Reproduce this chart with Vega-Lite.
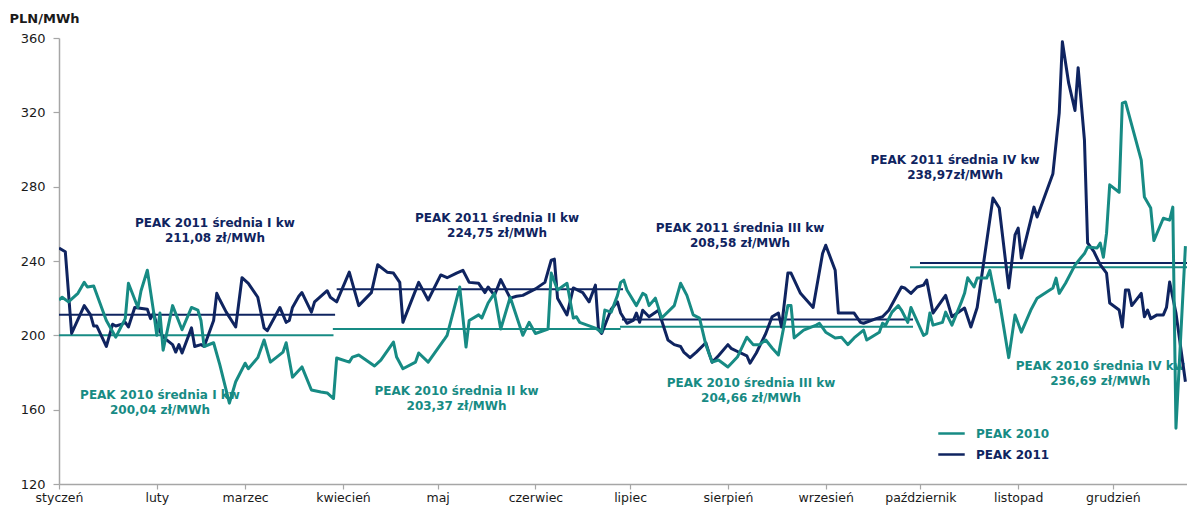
{
  "$schema": "https://vega.github.io/schema/vega-lite/v6.json",
  "width": 1128,
  "height": 446,
  "autosize": {"type": "none"},
  "padding": {"left": 59, "top": 38, "right": 0, "bottom": 22},
  "background": "white",
  "config": {"view": {"stroke": null}, "font": "DejaVu Sans", "axis": {"labelFont": "DejaVu Sans", "titleFont": "DejaVu Sans"}},
  "datasets": {
    "prices": [
      {"date": "2011-01-01", "series": "PEAK 2011", "value": 247},
      {"date": "2011-01-03", "series": "PEAK 2011", "value": 245},
      {"date": "2011-01-05", "series": "PEAK 2011", "value": 201},
      {"date": "2011-01-09", "series": "PEAK 2011", "value": 216},
      {"date": "2011-01-11", "series": "PEAK 2011", "value": 211},
      {"date": "2011-01-12", "series": "PEAK 2011", "value": 205},
      {"date": "2011-01-13", "series": "PEAK 2011", "value": 205},
      {"date": "2011-01-16", "series": "PEAK 2011", "value": 194},
      {"date": "2011-01-18", "series": "PEAK 2011", "value": 206},
      {"date": "2011-01-19", "series": "PEAK 2011", "value": 205},
      {"date": "2011-01-21", "series": "PEAK 2011", "value": 206},
      {"date": "2011-01-22", "series": "PEAK 2011", "value": 207},
      {"date": "2011-01-23", "series": "PEAK 2011", "value": 204.5},
      {"date": "2011-01-25", "series": "PEAK 2011", "value": 215},
      {"date": "2011-01-29", "series": "PEAK 2011", "value": 214},
      {"date": "2011-01-30", "series": "PEAK 2011", "value": 209},
      {"date": "2011-01-31", "series": "PEAK 2011", "value": 212},
      {"date": "2011-02-01", "series": "PEAK 2011", "value": 205.5},
      {"date": "2011-02-03", "series": "PEAK 2011", "value": 199},
      {"date": "2011-02-06", "series": "PEAK 2011", "value": 195},
      {"date": "2011-02-07", "series": "PEAK 2011", "value": 191},
      {"date": "2011-02-08", "series": "PEAK 2011", "value": 195},
      {"date": "2011-02-09", "series": "PEAK 2011", "value": 190.5},
      {"date": "2011-02-12", "series": "PEAK 2011", "value": 204},
      {"date": "2011-02-13", "series": "PEAK 2011", "value": 194},
      {"date": "2011-02-15", "series": "PEAK 2011", "value": 195},
      {"date": "2011-02-16", "series": "PEAK 2011", "value": 194},
      {"date": "2011-02-19", "series": "PEAK 2011", "value": 208},
      {"date": "2011-02-20", "series": "PEAK 2011", "value": 222.6},
      {"date": "2011-02-21", "series": "PEAK 2011", "value": 219},
      {"date": "2011-02-23", "series": "PEAK 2011", "value": 212.5},
      {"date": "2011-02-26", "series": "PEAK 2011", "value": 204.5},
      {"date": "2011-02-28", "series": "PEAK 2011", "value": 231},
      {"date": "2011-03-02", "series": "PEAK 2011", "value": 228},
      {"date": "2011-03-05", "series": "PEAK 2011", "value": 220.5},
      {"date": "2011-03-07", "series": "PEAK 2011", "value": 204},
      {"date": "2011-03-08", "series": "PEAK 2011", "value": 202.5},
      {"date": "2011-03-12", "series": "PEAK 2011", "value": 215},
      {"date": "2011-03-14", "series": "PEAK 2011", "value": 207},
      {"date": "2011-03-15", "series": "PEAK 2011", "value": 208},
      {"date": "2011-03-16", "series": "PEAK 2011", "value": 215},
      {"date": "2011-03-18", "series": "PEAK 2011", "value": 221},
      {"date": "2011-03-19", "series": "PEAK 2011", "value": 223},
      {"date": "2011-03-22", "series": "PEAK 2011", "value": 212.5},
      {"date": "2011-03-23", "series": "PEAK 2011", "value": 218},
      {"date": "2011-03-27", "series": "PEAK 2011", "value": 224},
      {"date": "2011-03-28", "series": "PEAK 2011", "value": 220.5},
      {"date": "2011-03-30", "series": "PEAK 2011", "value": 218},
      {"date": "2011-04-03", "series": "PEAK 2011", "value": 234},
      {"date": "2011-04-06", "series": "PEAK 2011", "value": 216},
      {"date": "2011-04-10", "series": "PEAK 2011", "value": 223},
      {"date": "2011-04-12", "series": "PEAK 2011", "value": 238},
      {"date": "2011-04-15", "series": "PEAK 2011", "value": 234},
      {"date": "2011-04-17", "series": "PEAK 2011", "value": 233.5},
      {"date": "2011-04-19", "series": "PEAK 2011", "value": 228.5},
      {"date": "2011-04-20", "series": "PEAK 2011", "value": 207},
      {"date": "2011-04-25", "series": "PEAK 2011", "value": 228.5},
      {"date": "2011-04-28", "series": "PEAK 2011", "value": 219},
      {"date": "2011-05-02", "series": "PEAK 2011", "value": 232.5},
      {"date": "2011-05-04", "series": "PEAK 2011", "value": 231},
      {"date": "2011-05-07", "series": "PEAK 2011", "value": 233.5},
      {"date": "2011-05-09", "series": "PEAK 2011", "value": 235},
      {"date": "2011-05-11", "series": "PEAK 2011", "value": 228.5},
      {"date": "2011-05-14", "series": "PEAK 2011", "value": 228},
      {"date": "2011-05-16", "series": "PEAK 2011", "value": 223},
      {"date": "2011-05-17", "series": "PEAK 2011", "value": 226},
      {"date": "2011-05-19", "series": "PEAK 2011", "value": 221.5},
      {"date": "2011-05-21", "series": "PEAK 2011", "value": 230},
      {"date": "2011-05-24", "series": "PEAK 2011", "value": 220},
      {"date": "2011-05-26", "series": "PEAK 2011", "value": 221},
      {"date": "2011-05-28", "series": "PEAK 2011", "value": 221.5},
      {"date": "2011-06-01", "series": "PEAK 2011", "value": 225},
      {"date": "2011-06-04", "series": "PEAK 2011", "value": 228.5},
      {"date": "2011-06-06", "series": "PEAK 2011", "value": 240.5},
      {"date": "2011-06-07", "series": "PEAK 2011", "value": 241},
      {"date": "2011-06-08", "series": "PEAK 2011", "value": 220},
      {"date": "2011-06-11", "series": "PEAK 2011", "value": 211},
      {"date": "2011-06-13", "series": "PEAK 2011", "value": 225.5},
      {"date": "2011-06-16", "series": "PEAK 2011", "value": 223},
      {"date": "2011-06-18", "series": "PEAK 2011", "value": 218},
      {"date": "2011-06-20", "series": "PEAK 2011", "value": 227},
      {"date": "2011-06-21", "series": "PEAK 2011", "value": 203},
      {"date": "2011-06-22", "series": "PEAK 2011", "value": 201},
      {"date": "2011-06-25", "series": "PEAK 2011", "value": 214},
      {"date": "2011-06-27", "series": "PEAK 2011", "value": 218},
      {"date": "2011-06-28", "series": "PEAK 2011", "value": 212},
      {"date": "2011-06-30", "series": "PEAK 2011", "value": 206.5},
      {"date": "2011-07-02", "series": "PEAK 2011", "value": 208},
      {"date": "2011-07-03", "series": "PEAK 2011", "value": 212},
      {"date": "2011-07-04", "series": "PEAK 2011", "value": 207},
      {"date": "2011-07-05", "series": "PEAK 2011", "value": 213.5},
      {"date": "2011-07-07", "series": "PEAK 2011", "value": 210},
      {"date": "2011-07-10", "series": "PEAK 2011", "value": 213.5},
      {"date": "2011-07-11", "series": "PEAK 2011", "value": 208},
      {"date": "2011-07-13", "series": "PEAK 2011", "value": 197.5},
      {"date": "2011-07-15", "series": "PEAK 2011", "value": 195},
      {"date": "2011-07-17", "series": "PEAK 2011", "value": 194},
      {"date": "2011-07-18", "series": "PEAK 2011", "value": 191},
      {"date": "2011-07-20", "series": "PEAK 2011", "value": 188},
      {"date": "2011-07-22", "series": "PEAK 2011", "value": 191},
      {"date": "2011-07-25", "series": "PEAK 2011", "value": 196},
      {"date": "2011-07-26", "series": "PEAK 2011", "value": 190.5},
      {"date": "2011-07-27", "series": "PEAK 2011", "value": 185.5},
      {"date": "2011-07-29", "series": "PEAK 2011", "value": 189},
      {"date": "2011-08-01", "series": "PEAK 2011", "value": 195},
      {"date": "2011-08-02", "series": "PEAK 2011", "value": 193},
      {"date": "2011-08-05", "series": "PEAK 2011", "value": 190.5},
      {"date": "2011-08-07", "series": "PEAK 2011", "value": 189},
      {"date": "2011-08-08", "series": "PEAK 2011", "value": 185},
      {"date": "2011-08-10", "series": "PEAK 2011", "value": 190.5},
      {"date": "2011-08-11", "series": "PEAK 2011", "value": 194},
      {"date": "2011-08-13", "series": "PEAK 2011", "value": 201},
      {"date": "2011-08-15", "series": "PEAK 2011", "value": 210},
      {"date": "2011-08-17", "series": "PEAK 2011", "value": 212},
      {"date": "2011-08-18", "series": "PEAK 2011", "value": 204.5},
      {"date": "2011-08-20", "series": "PEAK 2011", "value": 233.5},
      {"date": "2011-08-21", "series": "PEAK 2011", "value": 233.5},
      {"date": "2011-08-24", "series": "PEAK 2011", "value": 222.6},
      {"date": "2011-08-28", "series": "PEAK 2011", "value": 215},
      {"date": "2011-08-31", "series": "PEAK 2011", "value": 244},
      {"date": "2011-09-01", "series": "PEAK 2011", "value": 248.5},
      {"date": "2011-09-04", "series": "PEAK 2011", "value": 235},
      {"date": "2011-09-05", "series": "PEAK 2011", "value": 212},
      {"date": "2011-09-07", "series": "PEAK 2011", "value": 212},
      {"date": "2011-09-10", "series": "PEAK 2011", "value": 212},
      {"date": "2011-09-12", "series": "PEAK 2011", "value": 207},
      {"date": "2011-09-13", "series": "PEAK 2011", "value": 206.5},
      {"date": "2011-09-17", "series": "PEAK 2011", "value": 209},
      {"date": "2011-09-19", "series": "PEAK 2011", "value": 210},
      {"date": "2011-09-21", "series": "PEAK 2011", "value": 213.5},
      {"date": "2011-09-25", "series": "PEAK 2011", "value": 226},
      {"date": "2011-09-26", "series": "PEAK 2011", "value": 225.5},
      {"date": "2011-09-28", "series": "PEAK 2011", "value": 222.6},
      {"date": "2011-09-30", "series": "PEAK 2011", "value": 226},
      {"date": "2011-10-02", "series": "PEAK 2011", "value": 227},
      {"date": "2011-10-03", "series": "PEAK 2011", "value": 229.7},
      {"date": "2011-10-05", "series": "PEAK 2011", "value": 212},
      {"date": "2011-10-09", "series": "PEAK 2011", "value": 221.5},
      {"date": "2011-10-11", "series": "PEAK 2011", "value": 210},
      {"date": "2011-10-15", "series": "PEAK 2011", "value": 214.7},
      {"date": "2011-10-17", "series": "PEAK 2011", "value": 204.5},
      {"date": "2011-10-19", "series": "PEAK 2011", "value": 215},
      {"date": "2011-10-24", "series": "PEAK 2011", "value": 273.9},
      {"date": "2011-10-26", "series": "PEAK 2011", "value": 268.5},
      {"date": "2011-10-29", "series": "PEAK 2011", "value": 225.5},
      {"date": "2011-10-31", "series": "PEAK 2011", "value": 254},
      {"date": "2011-11-01", "series": "PEAK 2011", "value": 257.7},
      {"date": "2011-11-02", "series": "PEAK 2011", "value": 241.6},
      {"date": "2011-11-06", "series": "PEAK 2011", "value": 269},
      {"date": "2011-11-07", "series": "PEAK 2011", "value": 263.7},
      {"date": "2011-11-12", "series": "PEAK 2011", "value": 287},
      {"date": "2011-11-14", "series": "PEAK 2011", "value": 319.6},
      {"date": "2011-11-15", "series": "PEAK 2011", "value": 358},
      {"date": "2011-11-17", "series": "PEAK 2011", "value": 335.7},
      {"date": "2011-11-19", "series": "PEAK 2011", "value": 321},
      {"date": "2011-11-20", "series": "PEAK 2011", "value": 344},
      {"date": "2011-11-22", "series": "PEAK 2011", "value": 305},
      {"date": "2011-11-23", "series": "PEAK 2011", "value": 249.7},
      {"date": "2011-11-25", "series": "PEAK 2011", "value": 245},
      {"date": "2011-11-27", "series": "PEAK 2011", "value": 238},
      {"date": "2011-11-29", "series": "PEAK 2011", "value": 233.5},
      {"date": "2011-11-30", "series": "PEAK 2011", "value": 217.4},
      {"date": "2011-12-03", "series": "PEAK 2011", "value": 213.6},
      {"date": "2011-12-04", "series": "PEAK 2011", "value": 204.5},
      {"date": "2011-12-05", "series": "PEAK 2011", "value": 224.4},
      {"date": "2011-12-06", "series": "PEAK 2011", "value": 224.4},
      {"date": "2011-12-07", "series": "PEAK 2011", "value": 216},
      {"date": "2011-12-10", "series": "PEAK 2011", "value": 222.6},
      {"date": "2011-12-11", "series": "PEAK 2011", "value": 210},
      {"date": "2011-12-12", "series": "PEAK 2011", "value": 213.6},
      {"date": "2011-12-13", "series": "PEAK 2011", "value": 209},
      {"date": "2011-12-15", "series": "PEAK 2011", "value": 211},
      {"date": "2011-12-17", "series": "PEAK 2011", "value": 211},
      {"date": "2011-12-18", "series": "PEAK 2011", "value": 215},
      {"date": "2011-12-19", "series": "PEAK 2011", "value": 228.7},
      {"date": "2011-12-21", "series": "PEAK 2011", "value": 212},
      {"date": "2011-12-24", "series": "PEAK 2011", "value": 175},
      {"date": "2011-01-01", "series": "PEAK 2010", "value": 219},
      {"date": "2011-01-02", "series": "PEAK 2010", "value": 220.5},
      {"date": "2011-01-04", "series": "PEAK 2010", "value": 218},
      {"date": "2011-01-07", "series": "PEAK 2010", "value": 222.6},
      {"date": "2011-01-09", "series": "PEAK 2010", "value": 228.5},
      {"date": "2011-01-10", "series": "PEAK 2010", "value": 226},
      {"date": "2011-01-12", "series": "PEAK 2010", "value": 226.5},
      {"date": "2011-01-16", "series": "PEAK 2010", "value": 208},
      {"date": "2011-01-19", "series": "PEAK 2010", "value": 199},
      {"date": "2011-01-22", "series": "PEAK 2010", "value": 209},
      {"date": "2011-01-23", "series": "PEAK 2010", "value": 228},
      {"date": "2011-01-26", "series": "PEAK 2010", "value": 215},
      {"date": "2011-01-27", "series": "PEAK 2010", "value": 224},
      {"date": "2011-01-29", "series": "PEAK 2010", "value": 235},
      {"date": "2011-01-31", "series": "PEAK 2010", "value": 212.5},
      {"date": "2011-02-01", "series": "PEAK 2010", "value": 200},
      {"date": "2011-02-02", "series": "PEAK 2010", "value": 212},
      {"date": "2011-02-03", "series": "PEAK 2010", "value": 192},
      {"date": "2011-02-06", "series": "PEAK 2010", "value": 216},
      {"date": "2011-02-09", "series": "PEAK 2010", "value": 203},
      {"date": "2011-02-12", "series": "PEAK 2010", "value": 215},
      {"date": "2011-02-14", "series": "PEAK 2010", "value": 213.6},
      {"date": "2011-02-15", "series": "PEAK 2010", "value": 208},
      {"date": "2011-02-16", "series": "PEAK 2010", "value": 194},
      {"date": "2011-02-19", "series": "PEAK 2010", "value": 196},
      {"date": "2011-02-21", "series": "PEAK 2010", "value": 184},
      {"date": "2011-02-24", "series": "PEAK 2010", "value": 163.5},
      {"date": "2011-02-26", "series": "PEAK 2010", "value": 175},
      {"date": "2011-03-01", "series": "PEAK 2010", "value": 185},
      {"date": "2011-03-02", "series": "PEAK 2010", "value": 182},
      {"date": "2011-03-05", "series": "PEAK 2010", "value": 188},
      {"date": "2011-03-07", "series": "PEAK 2010", "value": 197.5},
      {"date": "2011-03-09", "series": "PEAK 2010", "value": 185.6},
      {"date": "2011-03-13", "series": "PEAK 2010", "value": 191},
      {"date": "2011-03-14", "series": "PEAK 2010", "value": 196},
      {"date": "2011-03-16", "series": "PEAK 2010", "value": 177.5},
      {"date": "2011-03-19", "series": "PEAK 2010", "value": 183},
      {"date": "2011-03-22", "series": "PEAK 2010", "value": 170.6},
      {"date": "2011-03-25", "series": "PEAK 2010", "value": 169.5},
      {"date": "2011-03-27", "series": "PEAK 2010", "value": 169},
      {"date": "2011-03-29", "series": "PEAK 2010", "value": 166},
      {"date": "2011-03-30", "series": "PEAK 2010", "value": 187.8},
      {"date": "2011-04-03", "series": "PEAK 2010", "value": 185.6},
      {"date": "2011-04-04", "series": "PEAK 2010", "value": 188.3},
      {"date": "2011-04-06", "series": "PEAK 2010", "value": 189.4},
      {"date": "2011-04-11", "series": "PEAK 2010", "value": 183.5},
      {"date": "2011-04-13", "series": "PEAK 2010", "value": 186.7},
      {"date": "2011-04-17", "series": "PEAK 2010", "value": 196.4},
      {"date": "2011-04-18", "series": "PEAK 2010", "value": 188.3},
      {"date": "2011-04-20", "series": "PEAK 2010", "value": 182},
      {"date": "2011-04-24", "series": "PEAK 2010", "value": 185.6},
      {"date": "2011-04-25", "series": "PEAK 2010", "value": 190.5},
      {"date": "2011-04-28", "series": "PEAK 2010", "value": 185.6},
      {"date": "2011-05-03", "series": "PEAK 2010", "value": 197.5},
      {"date": "2011-05-04", "series": "PEAK 2010", "value": 200},
      {"date": "2011-05-08", "series": "PEAK 2010", "value": 226},
      {"date": "2011-05-10", "series": "PEAK 2010", "value": 193.7},
      {"date": "2011-05-11", "series": "PEAK 2010", "value": 208},
      {"date": "2011-05-14", "series": "PEAK 2010", "value": 211},
      {"date": "2011-05-15", "series": "PEAK 2010", "value": 209.3},
      {"date": "2011-05-17", "series": "PEAK 2010", "value": 217.4},
      {"date": "2011-05-19", "series": "PEAK 2010", "value": 222.6},
      {"date": "2011-05-21", "series": "PEAK 2010", "value": 203.4},
      {"date": "2011-05-24", "series": "PEAK 2010", "value": 220.5},
      {"date": "2011-05-28", "series": "PEAK 2010", "value": 200},
      {"date": "2011-05-30", "series": "PEAK 2010", "value": 207},
      {"date": "2011-06-01", "series": "PEAK 2010", "value": 201},
      {"date": "2011-06-05", "series": "PEAK 2010", "value": 203.4},
      {"date": "2011-06-06", "series": "PEAK 2010", "value": 233.5},
      {"date": "2011-06-08", "series": "PEAK 2010", "value": 224.4},
      {"date": "2011-06-11", "series": "PEAK 2010", "value": 228},
      {"date": "2011-06-13", "series": "PEAK 2010", "value": 209.3},
      {"date": "2011-06-14", "series": "PEAK 2010", "value": 210},
      {"date": "2011-06-15", "series": "PEAK 2010", "value": 207},
      {"date": "2011-06-20", "series": "PEAK 2010", "value": 203.9},
      {"date": "2011-06-22", "series": "PEAK 2010", "value": 201.7},
      {"date": "2011-06-23", "series": "PEAK 2010", "value": 213.6},
      {"date": "2011-06-25", "series": "PEAK 2010", "value": 212.5},
      {"date": "2011-06-27", "series": "PEAK 2010", "value": 221.5},
      {"date": "2011-06-28", "series": "PEAK 2010", "value": 228.5},
      {"date": "2011-06-29", "series": "PEAK 2010", "value": 229.7},
      {"date": "2011-06-30", "series": "PEAK 2010", "value": 224.4},
      {"date": "2011-07-03", "series": "PEAK 2010", "value": 216},
      {"date": "2011-07-05", "series": "PEAK 2010", "value": 222.6},
      {"date": "2011-07-06", "series": "PEAK 2010", "value": 221.5},
      {"date": "2011-07-07", "series": "PEAK 2010", "value": 216},
      {"date": "2011-07-09", "series": "PEAK 2010", "value": 220},
      {"date": "2011-07-11", "series": "PEAK 2010", "value": 209.3},
      {"date": "2011-07-15", "series": "PEAK 2010", "value": 216},
      {"date": "2011-07-17", "series": "PEAK 2010", "value": 228},
      {"date": "2011-07-19", "series": "PEAK 2010", "value": 221.5},
      {"date": "2011-07-21", "series": "PEAK 2010", "value": 211},
      {"date": "2011-07-23", "series": "PEAK 2010", "value": 209.3},
      {"date": "2011-07-25", "series": "PEAK 2010", "value": 195},
      {"date": "2011-07-27", "series": "PEAK 2010", "value": 185.6},
      {"date": "2011-07-29", "series": "PEAK 2010", "value": 186.7},
      {"date": "2011-08-01", "series": "PEAK 2010", "value": 183},
      {"date": "2011-08-04", "series": "PEAK 2010", "value": 188.3},
      {"date": "2011-08-07", "series": "PEAK 2010", "value": 199},
      {"date": "2011-08-09", "series": "PEAK 2010", "value": 195},
      {"date": "2011-08-11", "series": "PEAK 2010", "value": 195},
      {"date": "2011-08-13", "series": "PEAK 2010", "value": 197.5},
      {"date": "2011-08-15", "series": "PEAK 2010", "value": 193.2},
      {"date": "2011-08-17", "series": "PEAK 2010", "value": 189.4},
      {"date": "2011-08-20", "series": "PEAK 2010", "value": 216},
      {"date": "2011-08-21", "series": "PEAK 2010", "value": 216},
      {"date": "2011-08-22", "series": "PEAK 2010", "value": 198.6},
      {"date": "2011-08-25", "series": "PEAK 2010", "value": 202.8},
      {"date": "2011-08-29", "series": "PEAK 2010", "value": 205.5},
      {"date": "2011-08-30", "series": "PEAK 2010", "value": 206.5},
      {"date": "2011-09-01", "series": "PEAK 2010", "value": 201.7},
      {"date": "2011-09-04", "series": "PEAK 2010", "value": 198.6},
      {"date": "2011-09-06", "series": "PEAK 2010", "value": 199},
      {"date": "2011-09-08", "series": "PEAK 2010", "value": 195},
      {"date": "2011-09-10", "series": "PEAK 2010", "value": 198.6},
      {"date": "2011-09-13", "series": "PEAK 2010", "value": 202.8},
      {"date": "2011-09-14", "series": "PEAK 2010", "value": 197.5},
      {"date": "2011-09-18", "series": "PEAK 2010", "value": 201.7},
      {"date": "2011-09-19", "series": "PEAK 2010", "value": 206.5},
      {"date": "2011-09-20", "series": "PEAK 2010", "value": 205.5},
      {"date": "2011-09-22", "series": "PEAK 2010", "value": 212.5},
      {"date": "2011-09-24", "series": "PEAK 2010", "value": 216},
      {"date": "2011-09-25", "series": "PEAK 2010", "value": 213.6},
      {"date": "2011-09-27", "series": "PEAK 2010", "value": 207},
      {"date": "2011-09-28", "series": "PEAK 2010", "value": 215},
      {"date": "2011-10-02", "series": "PEAK 2010", "value": 200},
      {"date": "2011-10-03", "series": "PEAK 2010", "value": 201},
      {"date": "2011-10-04", "series": "PEAK 2010", "value": 212},
      {"date": "2011-10-05", "series": "PEAK 2010", "value": 205.5},
      {"date": "2011-10-08", "series": "PEAK 2010", "value": 207},
      {"date": "2011-10-09", "series": "PEAK 2010", "value": 212.5},
      {"date": "2011-10-11", "series": "PEAK 2010", "value": 205.5},
      {"date": "2011-10-14", "series": "PEAK 2010", "value": 218},
      {"date": "2011-10-15", "series": "PEAK 2010", "value": 222.6},
      {"date": "2011-10-16", "series": "PEAK 2010", "value": 231},
      {"date": "2011-10-18", "series": "PEAK 2010", "value": 226},
      {"date": "2011-10-19", "series": "PEAK 2010", "value": 230.8},
      {"date": "2011-10-22", "series": "PEAK 2010", "value": 230.8},
      {"date": "2011-10-23", "series": "PEAK 2010", "value": 235},
      {"date": "2011-10-25", "series": "PEAK 2010", "value": 218},
      {"date": "2011-10-26", "series": "PEAK 2010", "value": 219},
      {"date": "2011-10-29", "series": "PEAK 2010", "value": 188},
      {"date": "2011-10-31", "series": "PEAK 2010", "value": 211},
      {"date": "2011-11-02", "series": "PEAK 2010", "value": 201.7},
      {"date": "2011-11-05", "series": "PEAK 2010", "value": 213.6},
      {"date": "2011-11-07", "series": "PEAK 2010", "value": 220},
      {"date": "2011-11-12", "series": "PEAK 2010", "value": 225.5},
      {"date": "2011-11-13", "series": "PEAK 2010", "value": 230.8},
      {"date": "2011-11-14", "series": "PEAK 2010", "value": 222.6},
      {"date": "2011-11-16", "series": "PEAK 2010", "value": 228},
      {"date": "2011-11-19", "series": "PEAK 2010", "value": 237.8},
      {"date": "2011-11-21", "series": "PEAK 2010", "value": 242},
      {"date": "2011-11-22", "series": "PEAK 2010", "value": 244},
      {"date": "2011-11-23", "series": "PEAK 2010", "value": 247.5},
      {"date": "2011-11-26", "series": "PEAK 2010", "value": 247},
      {"date": "2011-11-27", "series": "PEAK 2010", "value": 249.7},
      {"date": "2011-11-28", "series": "PEAK 2010", "value": 242},
      {"date": "2011-11-29", "series": "PEAK 2010", "value": 255},
      {"date": "2011-11-30", "series": "PEAK 2010", "value": 281},
      {"date": "2011-12-03", "series": "PEAK 2010", "value": 277},
      {"date": "2011-12-04", "series": "PEAK 2010", "value": 325},
      {"date": "2011-12-05", "series": "PEAK 2010", "value": 325.6},
      {"date": "2011-12-10", "series": "PEAK 2010", "value": 294.3},
      {"date": "2011-12-11", "series": "PEAK 2010", "value": 274.4},
      {"date": "2011-12-13", "series": "PEAK 2010", "value": 268.5},
      {"date": "2011-12-14", "series": "PEAK 2010", "value": 251},
      {"date": "2011-12-17", "series": "PEAK 2010", "value": 263},
      {"date": "2011-12-19", "series": "PEAK 2010", "value": 262},
      {"date": "2011-12-20", "series": "PEAK 2010", "value": 269},
      {"date": "2011-12-21", "series": "PEAK 2010", "value": 150},
      {"date": "2011-12-24", "series": "PEAK 2010", "value": 248}
    ],
    "averages": [
      {"series": "PEAK 2011", "start": "2011-01-01T00:00:00Z", "end": "2011-03-29T12:00:00Z", "avg": 211.08},
      {"series": "PEAK 2011", "start": "2011-03-30T00:00:00Z", "end": "2011-06-28T18:00:00Z", "avg": 224.75},
      {"series": "PEAK 2011", "start": "2011-06-28T10:00:00Z", "end": "2011-09-28T16:00:00Z", "avg": 208.58},
      {"series": "PEAK 2011", "start": "2011-09-30T21:00:00Z", "end": "2011-12-24T12:00:00Z", "avg": 238.97},
      {"series": "PEAK 2010", "start": "2011-01-01T00:00:00Z", "end": "2011-03-29T00:00:00Z", "avg": 200.04},
      {"series": "PEAK 2010", "start": "2011-03-28T19:00:00Z", "end": "2011-06-28T00:00:00Z", "avg": 203.37},
      {"series": "PEAK 2010", "start": "2011-06-27T19:00:00Z", "end": "2011-09-28T16:00:00Z", "avg": 204.66},
      {"series": "PEAK 2010", "start": "2011-09-27T17:00:00Z", "end": "2011-12-24T12:00:00Z", "avg": 236.69}
    ],
    "notes": [
      {"series": "PEAK 2011", "date": "2011-02-19T10:00:00Z", "value": 260.5, "label": "PEAK 2011 średnia I kw\n211,08 zł/MWh"},
      {"series": "PEAK 2010", "date": "2011-02-02T00:00:00Z", "value": 168.0, "label": "PEAK 2010 średnia I kw\n200,04 zł/MWh"},
      {"series": "PEAK 2011", "date": "2011-05-19T20:00:00Z", "value": 263.2, "label": "PEAK 2011 średnia II kw\n224,75 zł/MWh"},
      {"series": "PEAK 2010", "date": "2011-05-07T00:00:00Z", "value": 169.8, "label": "PEAK 2010 średnia II kw\n203,37 zł/MWh"},
      {"series": "PEAK 2011", "date": "2011-08-04T20:00:00Z", "value": 258.0, "label": "PEAK 2011 średnia III kw\n208,58 zł/MWh"},
      {"series": "PEAK 2010", "date": "2011-08-08T08:00:00Z", "value": 174.6, "label": "PEAK 2010 średnia III kw\n204,66 zł/MWh"},
      {"series": "PEAK 2011", "date": "2011-10-12T00:00:00Z", "value": 294.2, "label": "PEAK 2011 średnia IV kw\n238,97zł/MWh"},
      {"series": "PEAK 2010", "date": "2011-11-27T00:00:00Z", "value": 183.5, "label": "PEAK 2010 średnia IV kw\n236,69 zł/MWh"}
    ]
  },
  "layer": [
    {
      "data": {"name": "notes"},
      "mark": {"type": "text", "font": "DejaVu Sans", "fontSize": 12, "fontWeight": "bold", "lineBreak": "\n", "lineHeight": 15, "align": "center", "baseline": "middle"},
      "encoding": {
        "x": {"field": "date", "type": "temporal"},
        "y": {"field": "value", "type": "quantitative"},
        "text": {"field": "label"},
        "color": {"condition": {"test": "datum.series === 'PEAK 2010'", "value": "#178b84"}, "value": "#0f2460"}
      }
    },
    {
      "data": {"name": "averages"},
      "mark": {"type": "rule", "strokeWidth": 2},
      "encoding": {
        "x": {"field": "start", "type": "temporal"},
        "x2": {"field": "end"},
        "y": {"field": "avg", "type": "quantitative"},
        "color": {"condition": {"test": "datum.series === 'PEAK 2010'", "value": "#178b84"}, "value": "#0f2460"}
      }
    },
    {
      "data": {"name": "prices"},
      "mark": {"type": "line", "strokeWidth": 3, "strokeJoin": "round", "clip": true},
      "encoding": {
        "x": {
          "field": "date",
          "type": "temporal",
          "scale": {"type": "utc", "domain": [{"year": 2011, "month": 1, "date": 1, "utc": true}, {"year": 2011, "month": 12, "date": 24, "hours": 12, "utc": true}]},
          "axis": {
            "title": null,
            "grid": false,
            "values": [
              {"year": 2011, "month": 1, "date": 1, "utc": true},
              {"year": 2011, "month": 2, "date": 1, "utc": true},
              {"year": 2011, "month": 3, "date": 1, "utc": true},
              {"year": 2011, "month": 4, "date": 1, "utc": true},
              {"year": 2011, "month": 5, "date": 1, "utc": true},
              {"year": 2011, "month": 6, "date": 1, "utc": true},
              {"year": 2011, "month": 7, "date": 1, "utc": true},
              {"year": 2011, "month": 8, "date": 1, "utc": true},
              {"year": 2011, "month": 9, "date": 1, "utc": true},
              {"year": 2011, "month": 10, "date": 1, "utc": true},
              {"year": 2011, "month": 11, "date": 1, "utc": true},
              {"year": 2011, "month": 12, "date": 1, "utc": true}
            ],
            "labelExpr": "['styczeń','luty','marzec','kwiecień','maj','czerwiec','lipiec','sierpień','wrzesień','październik','listopad','grudzień'][utcmonth(datum.value)]",
            "labelFontSize": 12.5,
            "labelColor": "#1a1a1a",
            "labelPadding": 2,
            "labelOverlap": false,
            "labelFlush": false,
            "domainColor": "#a6a6a6",
            "domainWidth": 1.5,
            "tickColor": "#a6a6a6",
            "tickSize": 5,
            "tickWidth": 1.2
          }
        },
        "y": {
          "field": "value",
          "type": "quantitative",
          "scale": {"domain": [120, 360], "nice": false, "zero": false},
          "axis": {
            "values": [120, 160, 200, 240, 280, 320, 360],
            "grid": false,
            "title": "PLN/MWh",
            "titleAngle": 0,
            "titleAlign": "left",
            "titleBaseline": "middle",
            "titleX": -50,
            "titleY": -20,
            "titleFontSize": 13,
            "titleFontWeight": "bold",
            "titleColor": "#1a1a1a",
            "labelFontSize": 13,
            "labelColor": "#1a1a1a",
            "labelPadding": 8,
            "domainColor": "#a6a6a6",
            "domainWidth": 1.5,
            "tickColor": "#a6a6a6",
            "tickSize": 6,
            "tickWidth": 1.2
          }
        },
        "color": {
          "field": "series",
          "type": "nominal",
          "scale": {"domain": ["PEAK 2010", "PEAK 2011"], "range": ["#178b84", "#0f2460"]},
          "legend": {
            "title": null,
            "orient": "none",
            "legendX": 878,
            "legendY": 381,
            "symbolType": "stroke",
            "symbolSize": 700,
            "symbolStrokeWidth": 2.5,
            "labelFont": "DejaVu Sans",
            "labelFontSize": 12,
            "labelFontWeight": "bold",
            "labelOffset": 10,
            "rowPadding": -6,
            "encode": {"labels": {"update": {"fill": {"signal": "datum.value === 'PEAK 2010' ? '#178b84' : '#0f2460'"}}}}
          }
        }
      }
    }
  ]
}
